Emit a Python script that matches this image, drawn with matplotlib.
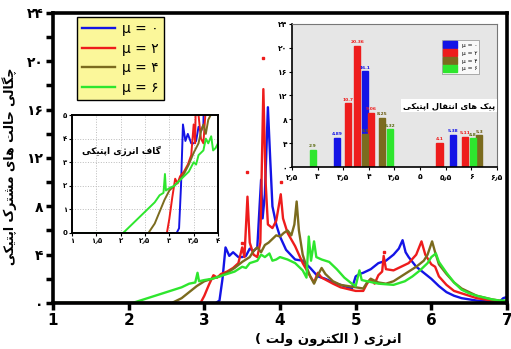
import matplotlib
matplotlib.use('Agg')
import matplotlib.pyplot as plt
from matplotlib.patches import Patch

plt.rcParams['font.family'] = ['DejaVu Sans']

# ---- main curves ----
x_mu0 = [1.0, 3.15, 3.2, 3.24, 3.28, 3.33, 3.38, 3.45, 3.5, 3.55, 3.6, 3.65, 3.7, 3.73, 3.75, 3.77,
         3.8, 3.84, 3.87, 3.9, 3.95, 4.0, 4.08, 4.2, 4.3, 4.4, 4.5, 4.6, 4.7, 4.8, 4.9, 4.95, 5.0,
         5.05, 5.1, 5.2, 5.3, 5.4, 5.5, 5.57, 5.62, 5.66, 5.7, 5.8, 5.9, 6.0, 6.1, 6.2, 6.3, 6.4,
         6.5, 6.6, 6.8, 6.9, 6.95, 7.0]
y_mu0 = [0, 0, 0.2, 2.0, 4.6, 3.9, 4.2, 3.8, 3.8, 3.9, 4.5, 4.3, 4.6, 8.0, 10.2, 7.0,
         9.0, 16.2, 12.0, 8.0, 6.5, 5.5, 4.4, 3.6, 3.5, 2.9, 2.2, 2.0, 1.7, 1.5, 1.3, 1.2, 2.2,
         2.4, 2.5, 2.8, 3.3, 3.5, 4.0, 4.5, 5.2, 4.2, 3.8, 3.0, 2.5, 2.0, 1.4, 0.9, 0.6, 0.4,
         0.3, 0.2, 0.1, 0.1, 0.4, 0.5]

x_mu2 = [1.0, 2.95, 3.0, 3.06, 3.12, 3.17, 3.22, 3.3, 3.38, 3.45, 3.5, 3.53, 3.57, 3.6, 3.65,
         3.7, 3.74, 3.78, 3.81, 3.84, 3.9, 3.95, 4.01, 4.04, 4.1, 4.2, 4.3, 4.4, 4.45, 4.5, 4.55,
         4.7, 4.8, 5.0, 5.1, 5.15, 5.2, 5.25, 5.3, 5.35, 5.37, 5.4, 5.5, 5.6, 5.7, 5.8, 5.87,
         5.92, 6.0, 6.05, 6.1, 6.2, 6.3, 6.4, 6.6, 6.8, 7.0]
y_mu2 = [0, 0, 0.6, 1.5, 2.3, 2.1, 2.4, 2.6, 2.9, 3.3, 4.6, 3.8, 8.8, 5.0, 4.0,
         3.8, 5.0, 17.7, 10.0, 6.5, 6.2, 6.8, 9.0, 7.0, 5.8, 4.7, 3.3, 2.2, 1.7, 2.5, 2.1,
         1.6, 1.3, 1.0, 1.0, 1.6, 2.0, 1.6, 2.3, 2.6, 3.9, 2.8, 2.7, 3.0, 3.3, 4.0, 5.1,
         4.0, 3.2, 3.0, 2.2, 1.5, 1.0, 0.8, 0.4, 0.2, 0.1]

x_mu4 = [1.0, 2.57, 2.7, 2.8, 2.9, 3.0, 3.1, 3.2, 3.3, 3.4, 3.5, 3.6, 3.65, 3.7, 3.75, 3.8,
         3.85, 3.9, 3.95, 4.0, 4.05, 4.1, 4.15, 4.19, 4.22, 4.25, 4.3, 4.35, 4.4, 4.45, 4.5,
         4.55, 4.6, 4.7, 4.8, 4.9, 5.0, 5.1, 5.15, 5.2, 5.3, 5.4, 5.5, 5.6, 5.7, 5.8, 5.9,
         5.95, 6.01, 6.05, 6.1, 6.2, 6.3, 6.4, 6.5, 6.6, 6.8, 7.0]
y_mu4 = [0, 0, 0.4, 0.9, 1.4, 1.8, 2.0, 2.2, 2.5, 2.9, 3.4, 3.8, 4.3, 4.6, 4.2, 4.8,
         5.0, 5.3, 5.6, 5.5, 5.8, 6.0, 5.6, 6.5, 8.4, 6.0, 4.0, 3.0, 2.2, 1.6, 2.3,
         2.9, 2.4, 1.8, 1.5, 1.4, 1.3, 1.2, 1.7, 2.0, 1.7, 1.6, 1.8, 2.2, 2.6, 3.0, 3.5,
         4.0, 5.1, 4.2, 3.2, 2.4, 1.7, 1.2, 0.9, 0.6, 0.3, 0.1]

x_mu6 = [1.0, 2.05, 2.15, 2.3, 2.4, 2.5, 2.6, 2.7, 2.8, 2.88, 2.91, 2.93, 3.0, 3.1, 3.2, 3.3,
         3.4, 3.5, 3.55, 3.6, 3.7, 3.75, 3.8, 3.86, 3.9, 3.95, 4.0, 4.1, 4.2, 4.3, 4.35, 4.38,
         4.41, 4.45, 4.48, 4.55, 4.65, 4.75, 4.85, 4.95, 5.0, 5.05, 5.08, 5.15, 5.3, 5.5, 5.65,
         5.75, 5.85, 5.95, 6.0, 6.06, 6.1, 6.2, 6.3, 6.4, 6.5, 6.6, 6.8, 6.9, 7.0]
y_mu6 = [0, 0, 0.2, 0.5, 0.7, 0.9, 1.1, 1.3, 1.6, 1.7, 2.5, 1.8, 1.9, 2.0, 2.2, 2.4,
         2.6, 3.0, 2.9, 3.3, 3.5, 4.0, 3.8, 4.1, 3.5, 3.6, 3.8, 3.6, 3.3, 2.7, 2.1, 5.5,
         3.5, 5.1, 3.8, 3.6, 3.4, 2.8, 2.1, 1.6, 1.4, 2.7, 1.9, 1.8, 1.6, 1.5, 1.8,
         2.2, 2.7, 3.3, 3.8, 4.1, 3.4, 2.5, 1.7, 1.1, 0.8, 0.6, 0.3, 0.2, 0.2]

peak_x = [3.5, 3.57, 3.78, 4.01, 5.37]
peak_y = [5.0, 10.8, 20.3, 10.0, 4.2]

# ---- peak bars (inset) ----
bar_x_mu0 = [3.38, 3.93, 5.65]
bar_h_mu0 = [4.89, 16.1, 5.38]
bar_x_mu2 = [3.6, 3.77, 4.05, 5.38, 5.87]
bar_h_mu2 = [10.7, 20.36, 9.06, 4.1, 5.11]
bar_x_mu4 = [3.93, 4.25, 6.15]
bar_h_mu4 = [5.5, 8.25, 5.3]
bar_x_mu6 = [2.91, 4.42, 6.03]
bar_h_mu6 = [2.9, 6.32, 4.8]

labels = ['μ = ۰', 'μ = ۲', 'μ = ۴', 'μ = ۶']
colors = ['#1414e6', '#ee1c1c', '#7b6b1e', '#2ee62e']

FA = str.maketrans('0123456789.', '۰۱۲۳۴۵۶۷۸۹٫')

# presentation forms: isolated, final, initial, medial
FORMS = {
    'ا': (0xFE8D, 0xFE8E), 'ر': (0xFEAD, 0xFEAE), 'ژ': (0xFB8A, 0xFB8B), 'و': (0xFEED, 0xFEEE),
    'ب': (0xFE8F, 0xFE90, 0xFE91, 0xFE92), 'پ': (0xFB56, 0xFB57, 0xFB58, 0xFB59),
    'ت': (0xFE95, 0xFE96, 0xFE97, 0xFE98), 'چ': (0xFB7A, 0xFB7B, 0xFB7C, 0xFB7D),
    'ح': (0xFEA1, 0xFEA2, 0xFEA3, 0xFEA4), 'ش': (0xFEB5, 0xFEB6, 0xFEB7, 0xFEB8),
    'ف': (0xFED1, 0xFED2, 0xFED3, 0xFED4), 'ق': (0xFED5, 0xFED6, 0xFED7, 0xFED8),
    'ک': (0xFB8E, 0xFB8F, 0xFB90, 0xFB91), 'گ': (0xFB92, 0xFB93, 0xFB94, 0xFB95),
    'ل': (0xFEDD, 0xFEDE, 0xFEDF, 0xFEE0), 'م': (0xFEE1, 0xFEE2, 0xFEE3, 0xFEE4),
    'ن': (0xFEE5, 0xFEE6, 0xFEE7, 0xFEE8), 'ه': (0xFEE9, 0xFEEA, 0xFEEB, 0xFEEC),
    'ی': (0xFBFC, 0xFBFD, 0xFBFE, 0xFBFF),
}


def fa_text(s):
    # crude shaping + right-to-left ordering, matplotlib has none
    out = []
    for i, ch in enumerate(s):
        f = FORMS.get(ch)
        if f is None:
            out.append(ch)
            continue
        prev = FORMS.get(s[i - 1]) if i > 0 else None
        nxt = FORMS.get(s[i + 1]) if i + 1 < len(s) else None
        jp = prev is not None and len(prev) == 4
        jn = len(f) == 4 and nxt is not None
        if jp and jn:
            c = f[3]
        elif jp:
            c = f[1]
        elif jn:
            c = f[2]
        else:
            c = f[0]
        out.append(chr(c))
    return ''.join(reversed(out)).translate(str.maketrans('()', ')('))


fig = plt.figure(figsize=(5.11, 3.49), dpi=100)
ax = fig.add_axes([0.1037, 0.1318, 0.8885, 0.831])

series = [(x_mu0, y_mu0), (x_mu2, y_mu2), (x_mu4, y_mu4), (x_mu6, y_mu6)]
for (xs, ys), c, lab in zip(series, colors, labels):
    ax.plot(xs, ys, color=c, lw=1.7, label=lab)
ax.plot(peak_x, peak_y, ls='none', marker='s', ms=1.6, color=colors[1])

ax.set_xlim(1, 7)
ax.set_ylim(0, 24)
ax.set_xticks([1, 2, 3, 4, 5, 6, 7])
ax.set_xticklabels(['1', '2', '3', '4', '5', '6', '7'], fontsize=11, fontweight='bold')
ax.set_yticks([0, 4, 8, 12, 16, 20, 24])
ax.set_yticklabels([str(v).translate(FA) for v in [0, 4, 8, 12, 16, 20, 24]],
                   fontsize=10, fontweight='bold')
ax.set_yticks([2, 6, 10, 14, 18, 22], minor=True)
ax.tick_params(axis='both', which='major', length=5, width=2.5, pad=2)
ax.tick_params(axis='y', which='minor', length=5, width=2.5)
for s in ax.spines.values():
    s.set_linewidth(2.6)

ax.set_xlabel(fa_text('انرژی ( الکترون ولت )'), fontsize=9.5, fontweight='bold')
ax.xaxis.set_label_coords(0.607, -0.105)
ax.set_ylabel(fa_text('چگالی حالت های مشترک اپتیکی'), fontsize=9, fontweight='bold')
ax.yaxis.set_label_coords(-0.08, 0.47)

leg = ax.legend(loc='upper left', bbox_to_anchor=(0.053, 0.985), fontsize=10,
                frameon=True, fancybox=False, handlelength=2.4, labelspacing=0.4,
                borderpad=0.35, handletextpad=0.5, borderaxespad=0)
leg.get_frame().set_facecolor('#fbf79a')
leg.get_frame().set_edgecolor('black')
leg.get_frame().set_linewidth(1.0)
leg.get_frame().set_alpha(1)

# ---- inset: optical gap ----
ax1 = fig.add_axes([0.1409, 0.3324, 0.2857, 0.338])
for (xs, ys), c in zip(series, colors):
    ax1.plot(xs, ys, color=c, lw=1.4)
ax1.set_xlim(1, 4)
ax1.set_ylim(0, 5)
ax1.set_xticks([1, 1.5, 2, 2.5, 3, 3.5, 4])
ax1.set_xticklabels([t.translate(FA) for t in ['1', '1.5', '2', '2.5', '3', '3.5', '4']],
                    fontsize=5, fontweight='bold')
ax1.set_yticks([0, 1, 2, 3, 4, 5])
ax1.set_yticklabels(['0', '۱', '۲', '۳', '۴', '۵'], fontsize=5, fontweight='bold')
ax1.tick_params(length=2, width=0.8, pad=1.5)
ax1.grid(True, ls=':', color='#bbbbbb', lw=0.7)
for s in ax1.spines.values():
    s.set_linewidth(1.4)
ax1.text(0.34, 0.70, fa_text('گاف انرژی اپتیکی'), transform=ax1.transAxes,
         ha='center', va='center', fontsize=6.5, fontweight='bold')

# ---- inset: peak heights ----
ax2 = fig.add_axes([0.5714, 0.5215, 0.401, 0.41])
ax2.set_facecolor('#e6e6e6')
bars = [(bar_x_mu0, bar_h_mu0), (bar_x_mu2, bar_h_mu2), (bar_x_mu4, bar_h_mu4),
        (bar_x_mu6, bar_h_mu6)]
txt_colors = ['#1414e6', '#ee1c1c', '#6b5b10', '#5a6a10']
for (bx, bh), c, tc in zip(bars, colors, txt_colors):
    ax2.bar(bx, bh, width=0.12, color=c, edgecolor=c)
    for xv, hv in zip(bx, bh):
        ax2.text(xv, hv + 0.25, str(hv), ha='center', va='bottom', fontsize=3.2,
                 color=tc, fontweight='bold')
ax2.set_xlim(2.5, 6.5)
ax2.set_ylim(0, 24)
xt = [2.5, 3, 3.5, 4, 4.5, 5, 5.5, 6, 6.5]
ax2.set_xticks(xt)
ax2.set_xticklabels([('%g' % v).translate(FA) for v in xt], fontsize=5.5, fontweight='bold')
yt = [0, 4, 8, 12, 16, 20, 24]
ax2.set_yticks(yt)
ax2.set_yticklabels([str(v).translate(FA) for v in yt], fontsize=5.5, fontweight='bold')
ax2.tick_params(length=2, width=0.8, pad=1.5)
for s in ax2.spines.values():
    s.set_linewidth(0.8)
    s.set_color('#777777')
ax2.spines['left'].set_color('black')
ax2.spines['bottom'].set_color('black')
ax2.spines['left'].set_linewidth(1.2)
ax2.spines['bottom'].set_linewidth(1.2)
handles = [Patch(facecolor=c, edgecolor=c) for c in colors]
leg2 = ax2.legend(handles, labels, loc='upper left', bbox_to_anchor=(0.73, 0.89),
                  fontsize=4.2, frameon=True, fancybox=False, handlelength=2.4,
                  handleheight=1.4, labelspacing=0.2, borderpad=0.3, borderaxespad=0)
leg2.get_frame().set_facecolor('white')
leg2.get_frame().set_edgecolor('#888888')
leg2.get_frame().set_linewidth(0.6)
ax2.text(0.766, 0.427, fa_text('پیک های انتقال اپتیکی'), transform=ax2.transAxes,
         ha='center', va='center', fontsize=6, fontweight='bold',
         bbox=dict(facecolor='white', edgecolor='none', pad=1.5))

fig.savefig('out.png', dpi=100)
